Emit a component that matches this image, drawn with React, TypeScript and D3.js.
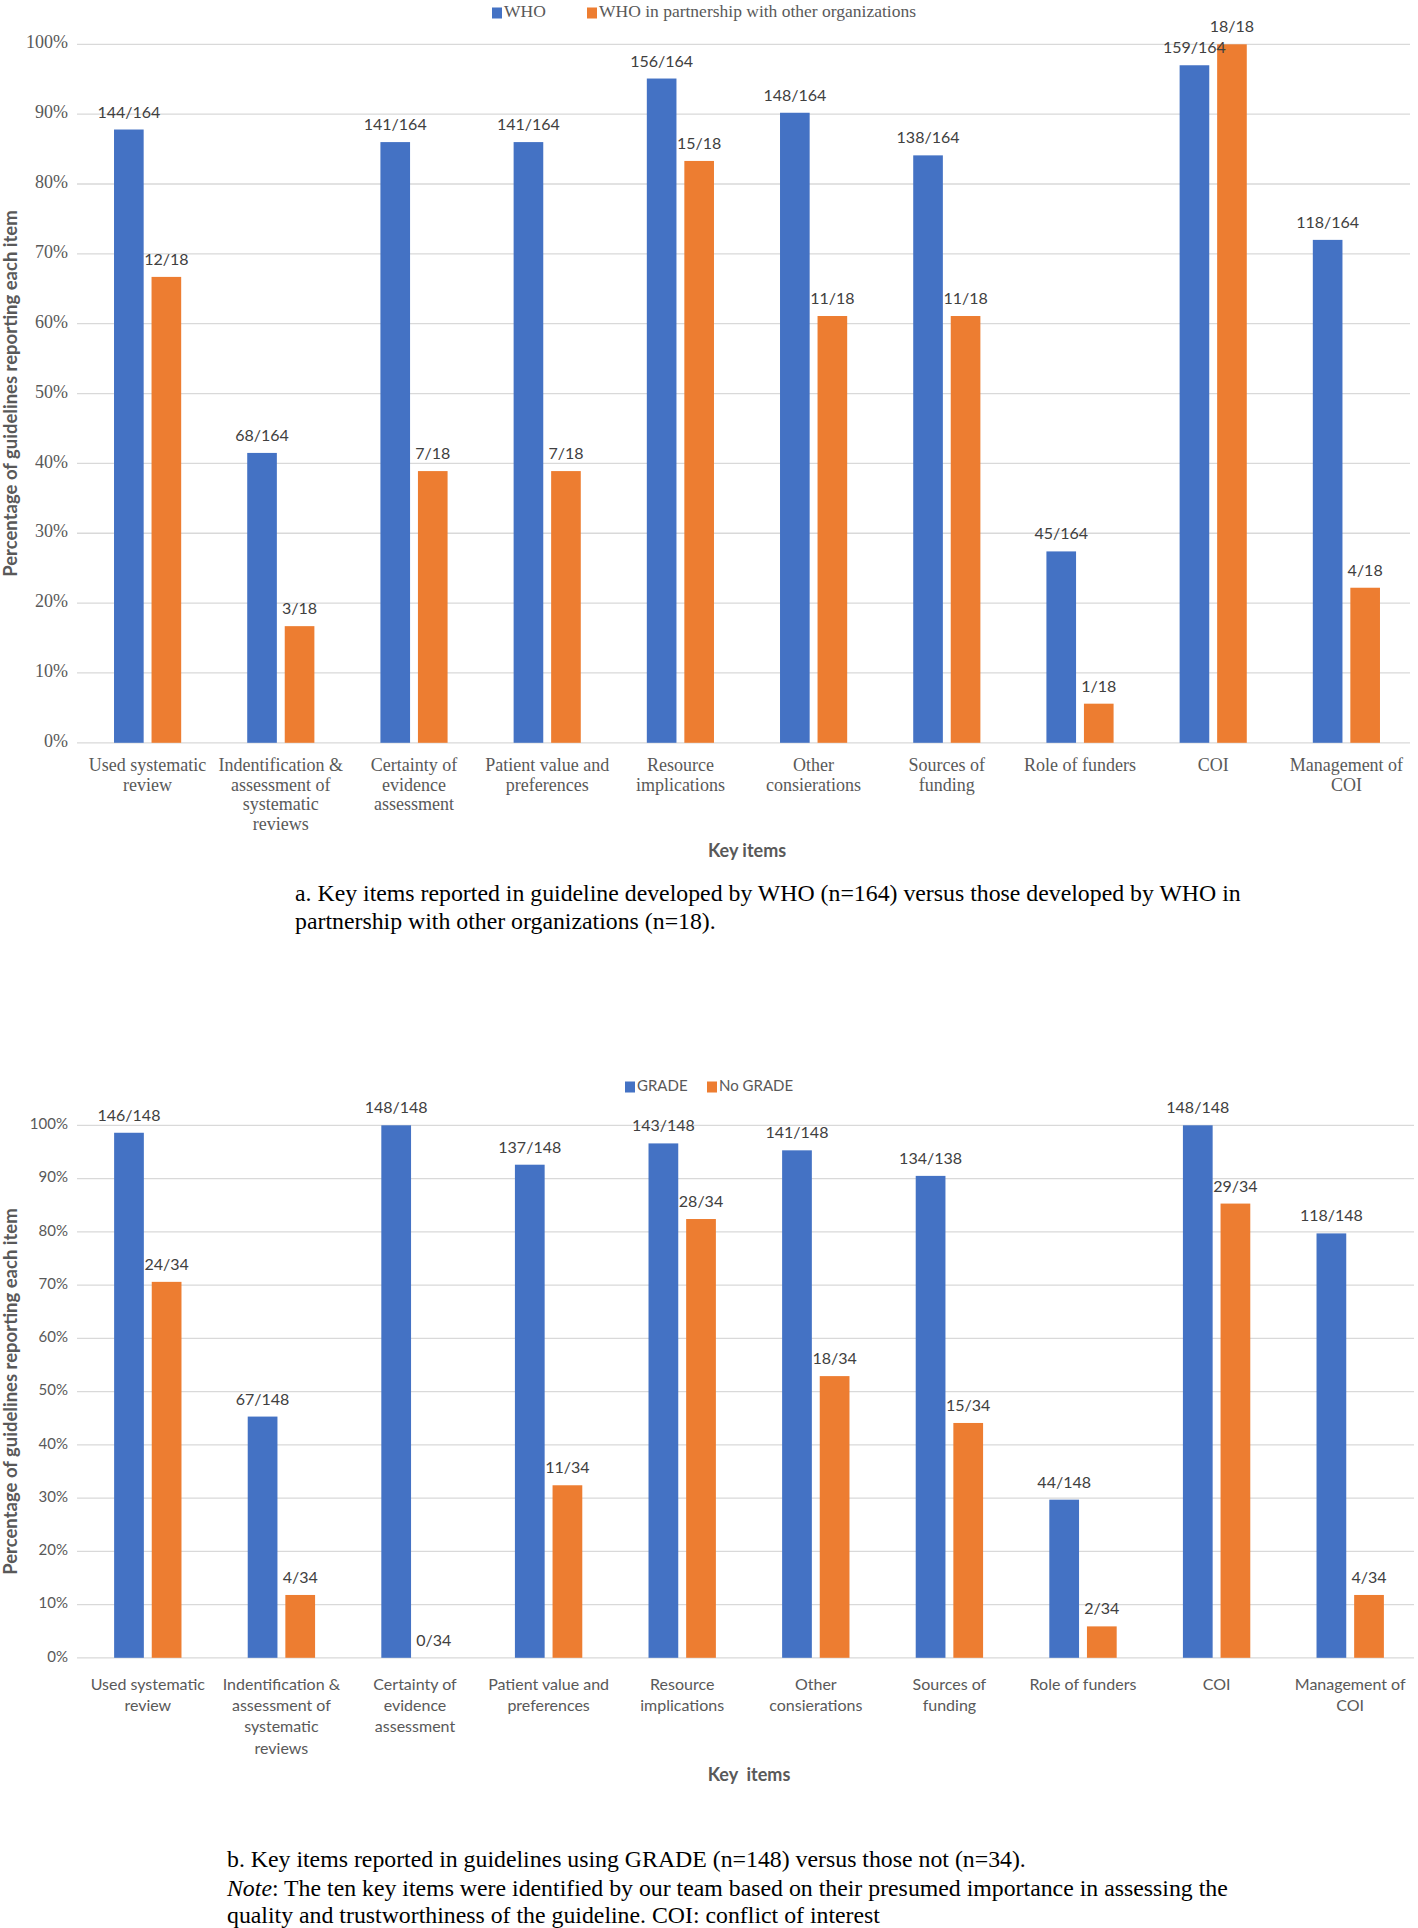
import React from "react";
import * as d3 from "d3";

// category tick labels (already wrapped the way the figure wraps them)
const categories = [
  ["Used systematic", "review"],
  ["Indentification &", "assessment of", "systematic", "reviews"],
  ["Certainty of", "evidence", "assessment"],
  ["Patient value and", "preferences"],
  ["Resource", "implications"],
  ["Other", "consierations"],
  ["Sources of", "funding"],
  ["Role of funders"],
  ["COI"],
  ["Management of", "COI"],
];

// panel a
const whoPct = [87.8, 41.5, 86.0, 86.0, 95.1, 90.2, 84.1, 27.4, 97.0, 72.0];
const whoLabels = ["144/164", "68/164", "141/164", "141/164", "156/164", "148/164", "138/164", "45/164", "159/164", "118/164"];
const partnerPct = [66.7, 16.7, 38.9, 38.9, 83.3, 61.1, 61.1, 5.6, 100, 22.2];
const partnerLabels = ["12/18", "3/18", "7/18", "7/18", "15/18", "11/18", "11/18", "1/18", "18/18", "4/18"];

// panel b
const gradePct = [98.6, 45.3, 100, 92.6, 96.6, 95.3, 90.5, 29.7, 100, 79.7];
const gradeLabels = ["146/148", "67/148", "148/148", "137/148", "143/148", "141/148", "134/138", "44/148", "148/148", "118/148"];
const noGradePct = [70.6, 11.8, 0, 32.4, 82.4, 52.9, 44.1, 5.9, 85.3, 11.8];
const noGradeLabels = ["24/34", "4/34", "0/34", "11/34", "28/34", "18/34", "15/34", "2/34", "29/34", "4/34"];

const yTicks = [0, 10, 20, 30, 40, 50, 60, 70, 80, 90, 100];

const BLUE = "#4472C4";
const ORANGE = "#ED7D31";
const GRID = "#D9D9D9";
const SANS = "Lato, 'Open Sans', sans-serif";
const SERIF = "'Liberation Serif', 'Times New Roman', serif";

function Panel(props) {
  const {
    top, bottom, left, right, tickFont, tickSize, catFont, catSize, catGap, catLineH,
    series, legendY, legendX, legendFont, legendSize, xTitle, xTitleY,
  } = props;

  const x = d3.scaleBand().domain(categories.map((_, i) => String(i))).range([left, right]);
  const inner = d3
    .scaleBand()
    .domain(series.map((s) => s.name))
    .range([0, x.bandwidth()])
    .paddingInner(0.21)
    .paddingOuter(0.88);
  const y = d3.scaleLinear().domain([0, 100]).range([bottom, top]);

  return (
    <g>
      {/* gridlines + y ticks */}
      {yTicks.map((t) => (
        <g key={t}>
          <line x1={left - 4} x2={right - 3} y1={y(t)} y2={y(t)} stroke={GRID} strokeWidth={1.3} />
          <text
            x={left - 13}
            y={y(t)}
            textAnchor="end"
            dominantBaseline="middle"
            fontFamily={tickFont}
            fontSize={tickSize}
            fill="#595959"
          >
            {t}%
          </text>
        </g>
      ))}

      {/* bars */}
      {series.map((s) =>
        s.values.map((v, i) => {
          const bx = x(String(i)) + inner(s.name);
          return (
            <rect
              key={s.name + i}
              x={bx}
              y={y(v)}
              width={inner.bandwidth()}
              height={bottom - y(v)}
              fill={s.color}
            />
          );
        })
      )}

      {/* data labels */}
      {series.map((s) =>
        s.values.map((v, i) => (
          <text
            key={"l" + s.name + i}
            x={x(String(i)) + inner(s.name) + inner.bandwidth() / 2}
            y={y(v) - 12}
            textAnchor="middle"
            fontFamily={SANS}
            fontSize={16}
            fill="#404040"
          >
            {s.labels[i]}
          </text>
        ))
      )}

      {/* category labels */}
      {categories.map((lines, i) => (
        <text
          key={"c" + i}
          x={x(String(i)) + x.bandwidth() / 2}
          y={bottom + catGap}
          textAnchor="middle"
          fontFamily={catFont}
          fontSize={catSize}
          fill="#595959"
        >
          {lines.map((ln, j) => (
            <tspan key={j} x={x(String(i)) + x.bandwidth() / 2} dy={j === 0 ? 0 : catLineH}>
              {ln}
            </tspan>
          ))}
        </text>
      ))}

      {/* legend */}
      {series.map((s, k) => (
        <g key={"lg" + k}>
          <rect x={legendX[k]} y={legendY - 5.5} width={10} height={11} fill={s.color} />
          <text
            x={legendX[k] + 12}
            y={legendY}
            dominantBaseline="middle"
            fontFamily={legendFont}
            fontSize={legendSize}
            fill="#595959"
          >
            {s.name}
          </text>
        </g>
      ))}

      {/* axis titles */}
      <text
        transform={`translate(12, ${(top + bottom) / 2}) rotate(-90)`}
        textAnchor="middle"
        dominantBaseline="middle"
        fontFamily={SANS}
        fontWeight="bold"
        fontSize={18.5}
        fill="#595959"
      >
        Percentage of guidelines reporting each item
      </text>
      <text
        x={(left + right) / 2}
        y={xTitleY}
        textAnchor="middle"
        dominantBaseline="middle"
        fontFamily={SANS}
        fontWeight="bold"
        fontSize={18}
        fill="#595959"
        style={{ whiteSpace: "pre" }}
      >
        {xTitle}
      </text>
    </g>
  );
}

export default function App() {
  return (
    <svg
      width={1418}
      height={1928}
      style={{ position: "absolute", left: 0, top: 0, background: "#fff" }}
    >
      <rect width={1418} height={1928} fill="#fff" />
      <Panel
        top={44.3}
        bottom={742.8}
        left={81}
        right={1413}
        tickFont={SERIF}
        tickSize={18}
        catFont={SERIF}
        catSize={18}
        catGap={28}
        catLineH={19.7}
        legendY={13}
        legendX={[492, 587]}
        legendFont={SERIF}
        legendSize={17.5}
        xTitle="Key items"
        xTitleY={852}
        series={[
          { name: "WHO", color: BLUE, values: whoPct, labels: whoLabels },
          { name: "WHO in partnership with other organizations", color: ORANGE, values: partnerPct, labels: partnerLabels },
        ]}
      />
      <Panel
        top={1125.3}
        bottom={1657.8}
        left={81}
        right={1417}
        tickFont={SANS}
        tickSize={15}
        catFont={SANS}
        catSize={16}
        catGap={32}
        catLineH={21.3}
        legendY={1087}
        legendX={[625, 707]}
        legendFont={SANS}
        legendSize={15}
        xTitle="Key  items"
        xTitleY={1776}
        series={[
          { name: "GRADE", color: BLUE, values: gradePct, labels: gradeLabels },
          { name: "No GRADE", color: ORANGE, values: noGradePct, labels: noGradeLabels },
        ]}
      />

      {/* captions */}
      <g fontFamily={SERIF} fontSize={23.8} fill="#000">
        <text x={295} y={901}>
          a. Key items reported in guideline developed by WHO (n=164) versus those developed by WHO in
        </text>
        <text x={295} y={929}>
          partnership with other organizations (n=18).
        </text>
        <text x={227} y={1867}>
          b. Key items reported in guidelines using GRADE (n=148) versus those not (n=34).
        </text>
        <text x={227} y={1896}>
          <tspan fontStyle="italic">Note</tspan>: The ten key items were identified by our team based on their presumed importance in assessing the
        </text>
        <text x={227} y={1923}>
          quality and trustworthiness of the guideline. COI: conflict of interest
        </text>
      </g>
    </svg>
  );
}
